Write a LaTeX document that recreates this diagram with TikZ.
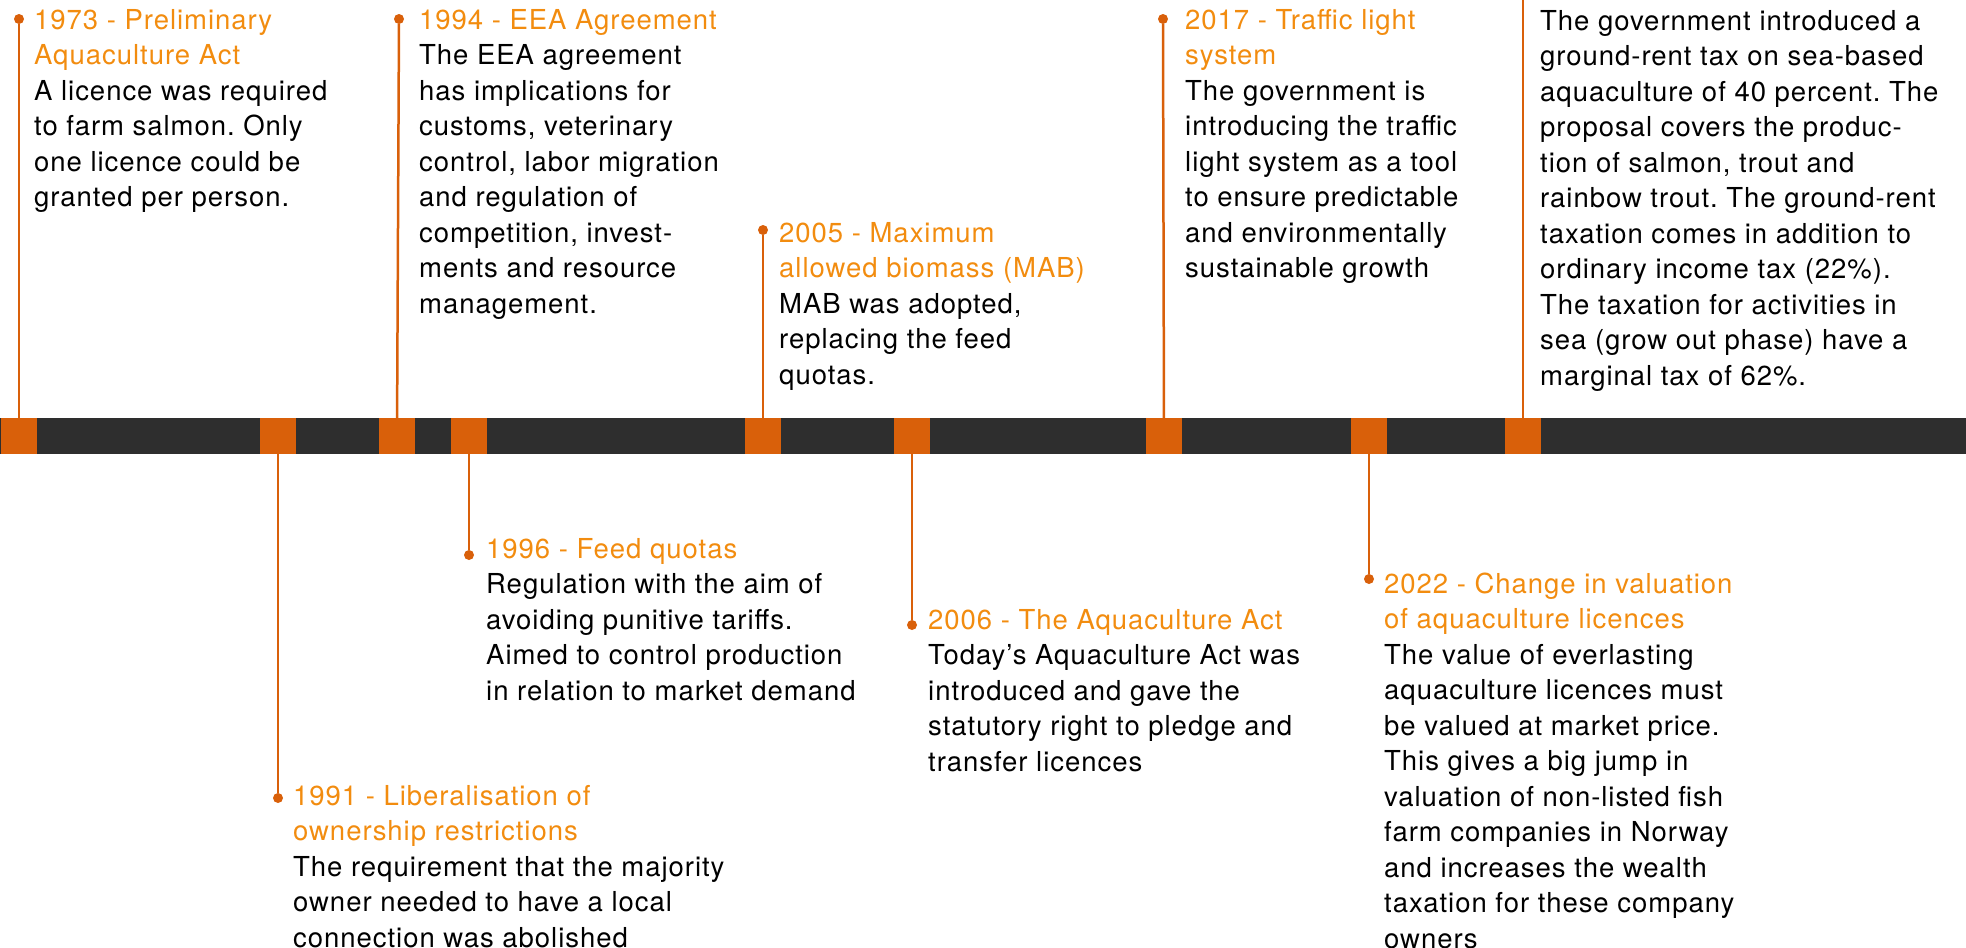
\documentclass[tikz,border=0pt]{standalone}
\usepackage{fontspec}
\setmainfont[LetterSpace=3.5]{TeX Gyre Heros}
\frenchspacing
\definecolor{barcol}{HTML}{2E2E2E}
\definecolor{markorange}{HTML}{D9600A}
\definecolor{titleorange}{HTML}{F28C0F}
\newcommand\ttl[1]{\textcolor{titleorange}{#1}}
\tikzset{
  yearbox/.style={fill=markorange, minimum size=36pt, inner sep=0pt},
  yeardot/.style={circle, fill=markorange, minimum size=10pt, inner sep=0pt},
  yearline/.style={draw=markorange, line width=2.5pt},
  yeartext/.style={anchor=base west, inner sep=0pt, text=black,
    font=\fontsize{27.5}{35.5}\selectfont},
}

\begin{document}
\begin{tikzpicture}[x=1pt,y=-1pt]
  \useasboundingbox (0,0) rectangle (1966,948);
  \fill[barcol] (0,418) rectangle (1966,454);
  % boxes on the bar
  \foreach \x/\n in {19/a,278/b,397/c,469/d,763/e,912/f,1164/g,1369/h,1523/i}{
    \node[yearbox] (m\n) at (\x,436) {};  }
  % dots at the ends of the lines
  \foreach \x/\y/\n in {19/19/a,278/798/b,399/19/c,469/555/d,763/230/e,912/625/f,1163/19/g,1369/579/h}{
    \node[yeardot] (d\n) at (\x,\y) {};  }
  \coordinate (di) at (1523,0);
  \foreach \n in {a,b,c,d,e,f,g,h,i}{
    \draw[yearline] (m\n) -- (d\n);  }

  \node[yeartext] (ta) at (34,29) {\begin{tabular}[t]{@{}l@{}}
    \ttl{1973 - Preliminary}\\ \ttl{Aquaculture Act}\\
    A licence was required\\ to farm salmon. Only\\ one licence could be\\ granted per person.
  \end{tabular}};
  \node[yeartext] (tb) at (293,805) {\begin{tabular}[t]{@{}l@{}}
    \ttl{1991 - Liberalisation of}\\ \ttl{ownership restrictions}\\
    The requirement that the majority\\ owner needed to have a local\\ connection was abolished
  \end{tabular}};
  \node[yeartext] (tc) at (419,29) {\begin{tabular}[t]{@{}l@{}}
    \ttl{1994 - EEA Agreement}\\
    The EEA agreement\\ has implications for\\ customs, veterinary\\ control, labor migration\\
    and regulation of\\ competition, invest-\\ ments and resource\\ management.
  \end{tabular}};
  \node[yeartext] (td) at (486,558) {\begin{tabular}[t]{@{}l@{}}
    \ttl{1996 - Feed quotas}\\
    Regulation with the aim of\\ avoiding punitive tariffs.\\ Aimed to control production\\ in relation to market demand
  \end{tabular}};
  \node[yeartext] (te) at (779,242) {\begin{tabular}[t]{@{}l@{}}
    \ttl{2005 - Maximum}\\ \ttl{allowed biomass (MAB)}\\
    MAB was adopted,\\ replacing the feed\\ quotas.
  \end{tabular}};
  \node[yeartext] (tf) at (928,629) {\begin{tabular}[t]{@{}l@{}}
    \ttl{2006 - The Aquaculture Act}\\
    Today’s Aquaculture Act was\\ introduced and gave the\\ statutory right to pledge and\\ transfer licences
  \end{tabular}};
  \node[yeartext] (tg) at (1185,29) {\begin{tabular}[t]{@{}l@{}}
    \ttl{2017 - Traffic light}\\ \ttl{system}\\
    The government is\\ introducing the traffic\\ light system as a tool\\ to ensure predictable\\
    and environmentally\\ sustainable growth
  \end{tabular}};
  \node[yeartext] (th) at (1384,593) {\begin{tabular}[t]{@{}l@{}}
    \ttl{2022 - Change in valuation}\\ \ttl{of aquaculture licences}\\
    The value of everlasting\\ aquaculture licences must\\ be valued at market price.\\
    This gives a big jump in\\ valuation of non-listed fish\\ farm companies in Norway\\
    and increases the wealth\\ taxation for these company\\ owners
  \end{tabular}};
  \node[yeartext] (ti) at (1540,30) {\begin{tabular}[t]{@{}l@{}}
    The government introduced a\\ ground-rent tax on sea-based\\ aquaculture of 40 percent. The\\
    proposal covers the produc-\\ tion of salmon, trout and\\ rainbow trout. The ground-rent\\
    taxation comes in addition to\\ ordinary income tax (22\%).\\ The taxation for activities in\\
    sea (grow out phase) have a\\ marginal tax of 62\%.
  \end{tabular}};
\end{tikzpicture}
\end{document}
